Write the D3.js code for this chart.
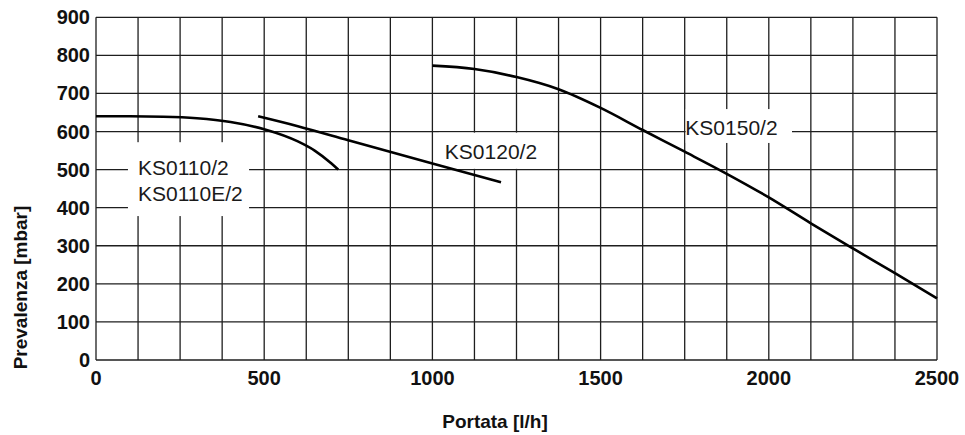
<!DOCTYPE html>
<html>
<head>
<meta charset="utf-8">
<script src="https://cdn.jsdelivr.net/npm/d3@7/dist/d3.min.js"></script>
<style>
  html, body { margin: 0; padding: 0; background: #fff; }
  svg { display: block; }
  .tick-label { font-family: "Liberation Sans", Arial, Helvetica, sans-serif; font-weight: bold; font-size: 20px; fill: #111; }
  .axis-title { font-family: "Liberation Sans", Arial, Helvetica, sans-serif; font-weight: bold; font-size: 19px; fill: #111; }
  .curve-label { font-family: "Liberation Sans", Arial, Helvetica, sans-serif; font-size: 21px; fill: #1a1a1a; }
</style>
</head>
<body>
<svg id="chart" width="965" height="435"></svg>
<script>
// ---- Data ----
const xTicks = [0, 500, 1000, 1500, 2000, 2500];
const yTicks = [0, 100, 200, 300, 400, 500, 600, 700, 800, 900];
const xGrid = d3.range(0, 2501, 125);
const yGrid = d3.range(0, 901, 100);

const ks0110Flow = [0, 100, 200, 300, 400, 500, 600, 650, 700, 720];
const ks0110Head = [640, 640, 639, 635, 625, 606, 574, 550, 516, 500];

const ks0120Flow = [482, 600, 750, 1000, 1204];
const ks0120Head = [640, 614, 577, 516, 467];

const ks0150Flow = [1000, 1125, 1250, 1375, 1500, 1625, 1750, 1875, 2000, 2125, 2250, 2375, 2500];
const ks0150Head = [773, 764, 743, 711, 662, 604, 547, 489, 427, 359, 293, 228, 162];

const seriesNames = ["KS0110/2", "KS0110E/2", "KS0120/2", "KS0150/2"];
const xTitle = "Portata [l/h]";
const yTitle = "Prevalenza [mbar]";

// ---- Scales ----
const svg = d3.select("#chart");
const x = d3.scaleLinear().domain([0, 2500]).range([96, 937]);
const y = d3.scaleLinear().domain([0, 900]).range([360, 17.3]);

const gridColor = "#1e1e1e";

// Grid
const grid = svg.append("g");
grid.selectAll("line.v").data(xGrid).enter().append("line")
  .attr("x1", d => x(d)).attr("x2", d => x(d))
  .attr("y1", y(0)).attr("y2", y(900))
  .attr("stroke", gridColor).attr("stroke-width", 1.3);
grid.selectAll("line.h").data(yGrid).enter().append("line")
  .attr("x1", x(0)).attr("x2", x(2500))
  .attr("y1", d => y(d)).attr("y2", d => y(d))
  .attr("stroke", gridColor).attr("stroke-width", 1.3);

// Label boxes (white, covering grid)
const boxes = [
  { f0: 95, f1: 455, h0: 378, h1: 572 },   // KS0110
  { f0: 1019, f1: 1359, h0: 502, h1: 597 }, // KS0120
  { f0: 1753, f1: 2069, h0: 570, h1: 659 }  // KS0150
];
svg.append("g").selectAll("rect").data(boxes).enter().append("rect")
  .attr("x", d => x(d.f0)).attr("width", d => x(d.f1) - x(d.f0))
  .attr("y", d => y(d.h1)).attr("height", d => y(d.h0) - y(d.h1))
  .attr("fill", "#fff");

// Curves
const line = d3.line().x(d => x(d[0])).y(d => y(d[1])).curve(d3.curveMonotoneX);
const curves = [
  d3.zip(ks0110Flow, ks0110Head),
  d3.zip(ks0120Flow, ks0120Head),
  d3.zip(ks0150Flow, ks0150Head)
];
svg.append("g").selectAll("path").data(curves).enter().append("path")
  .attr("d", line).attr("fill", "none").attr("stroke", "#000")
  .attr("stroke-width", 2.6).attr("stroke-linecap", "butt");

// Curve labels
const labels = [
  { t: seriesNames[0], f: 125, h: 485 },
  { t: seriesNames[1], f: 125, h: 418.5 },
  { t: seriesNames[2], f: 1037, h: 527 },
  { t: seriesNames[3], f: 1752, h: 591.5 }
];
svg.append("g").selectAll("text").data(labels).enter().append("text")
  .attr("class", "curve-label")
  .attr("x", d => x(d.f)).attr("y", d => y(d.h))
  .text(d => d.t);

// Tick labels
svg.append("g").selectAll("text").data(yTicks).enter().append("text")
  .attr("class", "tick-label")
  .attr("x", 90).attr("y", d => y(d) + 7)
  .attr("text-anchor", "end")
  .text(d => d);
svg.append("g").selectAll("text").data(xTicks).enter().append("text")
  .attr("class", "tick-label")
  .attr("x", d => x(d)).attr("y", 385)
  .attr("text-anchor", "middle")
  .text(d => d);

// Axis titles
svg.append("text").attr("class", "axis-title")
  .attr("x", 495).attr("y", 428).attr("text-anchor", "middle")
  .text(xTitle);
svg.append("text").attr("class", "axis-title")
  .attr("transform", "translate(27,287.5) rotate(-90)")
  .attr("text-anchor", "middle")
  .text(yTitle);
</script>
</body>
</html>
